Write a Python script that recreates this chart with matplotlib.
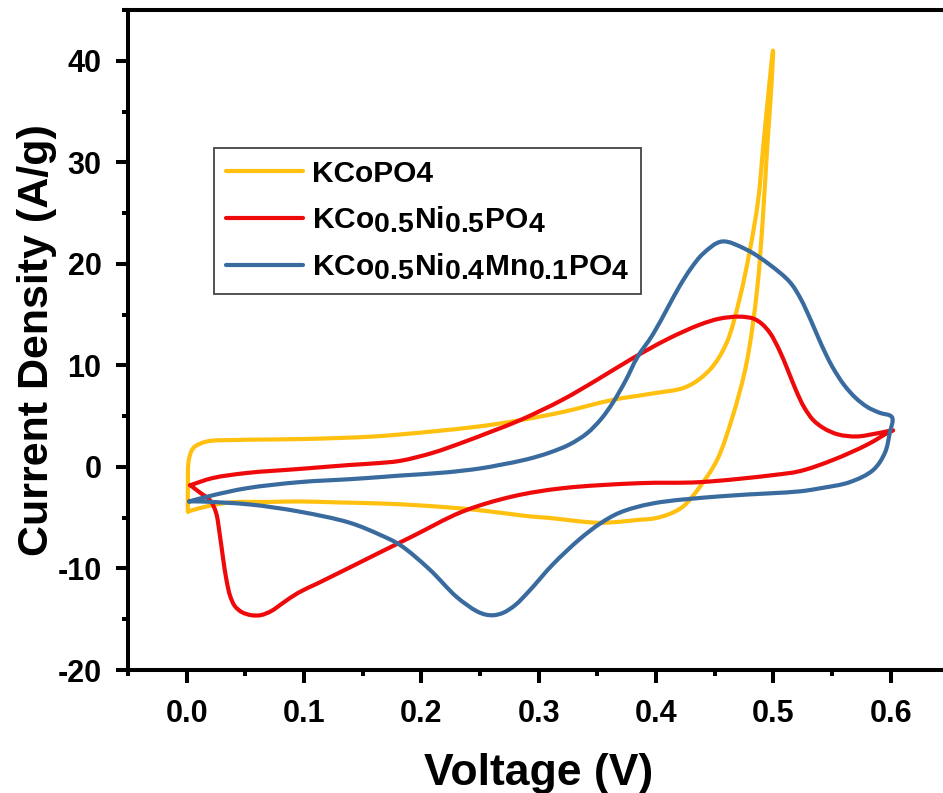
import matplotlib
matplotlib.use("Agg")
import numpy as np
import matplotlib.pyplot as plt
import matplotlib._mathtext as _mt
from matplotlib.ticker import MultipleLocator
from matplotlib.path import Path
from matplotlib.patches import PathPatch
from matplotlib.lines import Line2D

plt.rcParams['font.family'] = ['Liberation Sans', 'DejaVu Sans']
plt.rcParams['font.weight'] = 'bold'
plt.rcParams['axes.unicode_minus'] = False
plt.rcParams['mathtext.fontset'] = 'custom'
plt.rcParams['mathtext.rm'] = 'Liberation Sans:bold'
plt.rcParams['mathtext.it'] = 'Liberation Sans:bold'
plt.rcParams['mathtext.bf'] = 'Liberation Sans:bold'
plt.rcParams['mathtext.default'] = 'rm'
_mt.SHRINK_FACTOR = 0.95   # subscripts in the reference are nearly full size

# ---- data (closed CV loops: voltage, current density) ----
kco_v = [0.001, 0.001, 0.002, 0.006, 0.017, 0.04, 0.07, 0.1, 0.13, 0.16, 0.182, 0.21, 0.25,
         0.284, 0.32, 0.363, 0.395, 0.426, 0.446, 0.46, 0.471, 0.48, 0.487, 0.491, 0.495, 0.4996,
         0.4985, 0.4945, 0.491, 0.486, 0.477, 0.465, 0.452, 0.437, 0.423, 0.41, 0.397, 0.386, 0.369,
         0.35, 0.307, 0.295, 0.244, 0.2, 0.165, 0.13, 0.096, 0.07, 0.037, 0.013, 0.001]
kco_i = [-4.4, -2.0, 0.8, 1.9, 2.5, 2.65, 2.7, 2.75, 2.85, 3.0, 3.2, 3.5, 4.0,
         4.6, 5.4, 6.6, 7.2, 7.9, 9.6, 12.2, 16.5, 21.4, 26.3, 31.2, 36.0, 41.0,
         38.0, 31.2, 24.6, 17.4, 10.2, 4.9, 0.7, -2.0, -3.9, -4.7, -5.1, -5.2, -5.4,
         -5.5, -5.0, -4.9, -4.2, -3.8, -3.6, -3.5, -3.4, -3.45, -3.5, -4.0, -4.4]

kcn_v = [0.003, 0.022, 0.051, 0.096, 0.14, 0.16, 0.182, 0.21, 0.235, 0.26, 0.284, 0.32, 0.35,
         0.38, 0.41, 0.437, 0.454, 0.471, 0.483, 0.49, 0.497, 0.505, 0.512, 0.519, 0.526, 0.534,
         0.543, 0.555, 0.571, 0.588, 0.602,
         0.598, 0.58, 0.551, 0.523, 0.5, 0.437, 0.386, 0.32, 0.278, 0.235, 0.193, 0.165, 0.139,
         0.111, 0.095, 0.082, 0.072, 0.063, 0.055, 0.047, 0.041, 0.037, 0.034, 0.031, 0.028,
         0.025, 0.02, 0.011, 0.003]
kcn_i = [-1.8, -1.1, -0.6, -0.2, 0.2, 0.35, 0.6, 1.4, 2.4, 3.5, 4.6, 6.6, 8.6,
         10.7, 12.6, 14.0, 14.6, 14.8, 14.6, 14.1, 13.2, 11.5, 9.6, 7.6, 5.9, 4.6,
         3.8, 3.2, 3.0, 3.3, 3.6,
         3.4, 2.2, 0.7, -0.4, -0.8, -1.5, -1.6, -2.1, -2.9, -4.4, -6.8, -8.4, -9.9,
         -11.5, -12.4, -13.4, -14.2, -14.6, -14.6, -14.3, -13.7, -12.7, -11.2, -9.0, -6.5,
         -4.5, -3.3, -2.5, -1.8]

kcnm_v = [0.002, 0.022, 0.051, 0.096, 0.14, 0.165, 0.182, 0.22, 0.25, 0.267, 0.29, 0.309, 0.326,
          0.341, 0.353, 0.363, 0.374, 0.384, 0.397, 0.41, 0.42, 0.43, 0.44, 0.456, 0.477, 0.497,
          0.514, 0.523, 0.532, 0.541, 0.55, 0.56, 0.57, 0.58, 0.59, 0.601,
          0.599, 0.595, 0.585, 0.565, 0.54, 0.523, 0.497, 0.454, 0.397, 0.369, 0.352, 0.335,
          0.312, 0.292, 0.28, 0.27, 0.262, 0.255, 0.247, 0.23, 0.207, 0.182, 0.165, 0.139, 0.096,
          0.054, 0.011, 0.002]
kcnm_i = [-3.4, -2.8, -2.1, -1.5, -1.2, -1.0, -0.85, -0.55, -0.15, 0.2, 0.75, 1.4, 2.2,
          3.3, 4.7, 6.3, 8.5, 10.8, 13.0, 15.7, 17.8, 19.6, 21.0, 22.2, 21.4, 19.9,
          18.2, 16.6, 14.4, 12.0, 9.9, 8.1, 6.8, 5.9, 5.35, 4.9,
          3.3, 1.4, -0.3, -1.5, -2.1, -2.4, -2.6, -2.9, -3.6, -4.5, -5.6, -7.1,
          -9.6, -12.2, -13.6, -14.35, -14.6, -14.55, -14.2, -12.8, -10.1, -7.7, -6.7, -5.5, -4.4,
          -3.7, -3.4, -3.4]

labels = ['KCoPO4',
          r'KCo$_{0.5}$Ni$_{0.5}$PO$_{4}$',
          r'KCo$_{0.5}$Ni$_{0.4}$Mn$_{0.1}$PO$_{4}$']
colors = ['#FFC010', '#EE0A0A', '#3A6B9F']

x_ticks = [0.0, 0.1, 0.2, 0.3, 0.4, 0.5, 0.6]
y_ticks = [-20, -10, 0, 10, 20, 30, 40]

XLIM = (-0.05, 0.65)
YLIM = (-20, 45)
AX_RECT = [128 / 943, 123 / 793, 821.5 / 943, 660 / 793]


def smooth_path(xs, ys, sx, sy, alpha=0.5):
    """Centripetal Catmull-Rom curve through the data points as cubic Bezier segments.
    sx, sy scale data units to screen-like units for the knot spacing only."""
    pts = np.column_stack([xs, ys]).astype(float)
    n = len(pts)
    scale = np.array([sx, sy])

    def d(a, b):
        return max(np.hypot(*((b - a) * scale)) ** alpha, 1e-9)

    verts = [pts[0]]
    codes = [Path.MOVETO]
    for i in range(n - 1):
        p1, p2 = pts[i], pts[i + 1]
        d2 = d(p1, p2)
        if i > 0:
            p0 = pts[i - 1]
            d1 = d(p0, p1)
            c1 = (d1 ** 2 * p2 - d2 ** 2 * p0 + (2 * d1 ** 2 + 3 * d1 * d2 + d2 ** 2) * p1) / (3 * d1 * (d1 + d2))
        else:
            c1 = p1 + (p2 - p1) / 3.0
        if i + 2 < n:
            p3 = pts[i + 2]
            d3 = d(p2, p3)
            c2 = (d3 ** 2 * p1 - d2 ** 2 * p3 + (2 * d3 ** 2 + 3 * d3 * d2 + d2 ** 2) * p2) / (3 * d3 * (d3 + d2))
        else:
            c2 = p2 - (p2 - p1) / 3.0
        verts += [c1, c2, p2]
        codes += [Path.CURVE4] * 3
    return Path(verts, codes)


fig = plt.figure(figsize=(9.43, 7.93), dpi=100)
ax = fig.add_axes(AX_RECT)
ax.set_xlim(*XLIM)
ax.set_ylim(*YLIM)

px_per_x = AX_RECT[2] * 943 / (XLIM[1] - XLIM[0])
px_per_y = AX_RECT[3] * 793 / (YLIM[1] - YLIM[0])

handles = []
for (xv, yv), lab, c in zip([(kco_v, kco_i), (kcn_v, kcn_i), (kcnm_v, kcnm_i)], labels, colors):
    patch = PathPatch(smooth_path(xv, yv, px_per_x, px_per_y), facecolor='none', edgecolor=c,
                      lw=3.0, joinstyle='round', capstyle='round')
    ax.add_patch(patch)
    handles.append(Line2D([], [], color=c, lw=3.0, solid_capstyle='round', label=lab))

ax.set_xticks(x_ticks)
ax.set_yticks(y_ticks)
ax.set_xticklabels(['%.1f' % v for v in x_ticks])
ax.set_yticklabels(['%d' % v for v in y_ticks])
ax.xaxis.set_minor_locator(MultipleLocator(0.05))
ax.yaxis.set_minor_locator(MultipleLocator(5))

for s in ax.spines.values():
    s.set_linewidth(2.9)
ax.tick_params(which='major', direction='out', length=9, width=2.9, labelsize=22, pad=10)
ax.tick_params(which='minor', direction='out', length=4.5, width=2.9)
ax.tick_params(axis='x', which='major', pad=12)
for t in ax.get_xticklabels() + ax.get_yticklabels():
    t.set_fontweight('bold')

ax.set_xlabel('Voltage (V)', fontsize=32, fontweight='bold', labelpad=17)
ax.set_ylabel('Current Density (A/g)', fontsize=31, fontweight='bold')
ax.yaxis.set_label_coords(-0.086, 0.5)

leg = ax.legend(handles=handles, loc='upper left', bbox_to_anchor=(0.1045, 0.791),
                borderaxespad=0, fancybox=False, framealpha=1, edgecolor='#444444',
                prop={'size': 21.5, 'weight': 'bold'}, handlelength=2.6,
                handletextpad=0.28, labelspacing=0.55, borderpad=0.4)
leg.get_frame().set_linewidth(1.3)

fig.savefig('out.png', dpi=100)
